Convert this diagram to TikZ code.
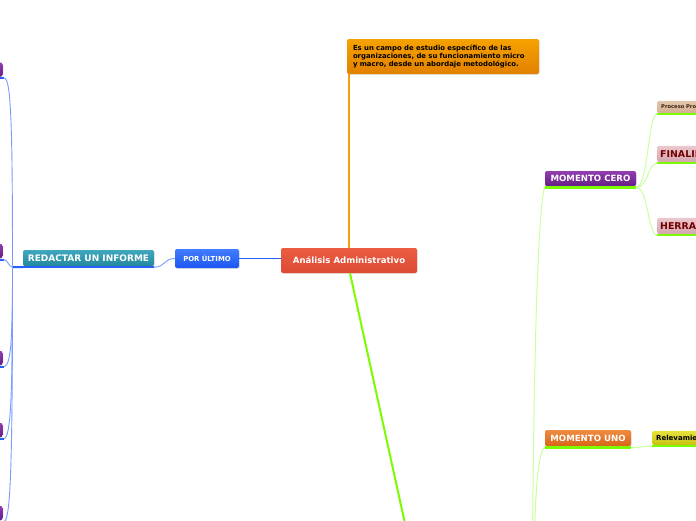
\documentclass[tikz,border=0pt]{standalone}
\usepackage{fontspec}
\setmainfont{DejaVu Sans}
\usepackage{tikz}
\usetikzlibrary{shadows, calc}
\definecolor{raiztop}{RGB}{236,92,66}
\definecolor{raizbot}{RGB}{220,74,52}
\definecolor{descTop}{RGB}{246,162,0}
\definecolor{descBot}{RGB}{226,128,0}
\definecolor{descLine}{RGB}{242,160,10}
\definecolor{azulTop}{RGB}{66,124,255}
\definecolor{azulBot}{RGB}{28,86,240}
\definecolor{azulLine}{RGB}{40,95,255}
\definecolor{azulRama}{RGB}{120,155,255}
\definecolor{tealTop}{RGB}{64,168,190}
\definecolor{tealBot}{RGB}{34,136,158}
\definecolor{moraTop}{RGB}{146,62,176}
\definecolor{moraBot}{RGB}{102,30,134}
\definecolor{naranjaTop}{RGB}{240,140,66}
\definecolor{naranjaBot}{RGB}{214,100,24}
\definecolor{verdeFuerte}{RGB}{124,252,0}
\definecolor{verdeRama}{RGB}{200,255,160}
\definecolor{tanTop}{RGB}{228,198,170}
\definecolor{tanBot}{RGB}{212,176,146}
\definecolor{rosaTop}{RGB}{236,200,206}
\definecolor{rosaBot}{RGB}{214,164,174}
\definecolor{amaTop}{RGB}{232,228,60}
\definecolor{amaBot}{RGB}{200,192,20}

\begin{document}
\begin{tikzpicture}[x=1pt, y=-1pt,
    topic/.style={rounded corners=2pt, inner sep=0pt, text=white,
        font=\bfseries\fontsize{8.6}{10}\selectfont,
        drop shadow={opacity=0.2, shadow xshift=0.6pt, shadow yshift=-0.8pt}},
    leaf/.style={rounded corners=1.5pt, inner sep=0pt, inner xsep=4pt,
        anchor=south west, align=left, text width=100pt},
    azulUline/.style={draw=azulLine, line width=2pt},
    azulBranch/.style={draw=azulRama, line width=0.9pt},
    verdeUline/.style={draw=verdeFuerte, line width=2.2pt},
    verdeBranch/.style={draw=verdeRama, line width=1pt}
]
    \useasboundingbox (0,0) rectangle (696,520);
    \fill[white] (0,0) rectangle (696,520);
    \clip (0,0) rectangle (696,520);

    % Central topic and description
    \node[topic, top color=raiztop, bottom color=raizbot, minimum width=136pt,
          minimum height=25pt] (analisis) at (349,260.5) {Análisis Administrativo};
    \node[topic, top color=descTop, bottom color=descBot, minimum width=192pt,
          minimum height=35pt, text=black, text width=180pt, align=left,
          font=\bfseries\fontsize{6.9}{8}\selectfont] (desc) at (443,56.5)
          {Es un campo de estudio específico de las\\organizaciones, de su funcionamiento micro\\y macro, desde un abordaje metodológico.};
    \draw[descLine, line width=1.8pt] (analisis.north) -- (analisis.north |- desc.south);

    % Left side
    \node[topic, top color=azulTop, bottom color=azulBot, minimum width=64pt,
          minimum height=19pt, font=\bfseries\fontsize{6.9}{8}\selectfont] (porultimo) at (207,258.5) {POR ÚLTIMO};
    \node[topic, top color=tealTop, bottom color=tealBot, minimum width=131pt,
          minimum height=16pt, font=\bfseries\fontsize{9}{10}\selectfont] (redactar) at (88.5,258) {REDACTAR UN INFORME};
    \draw[azulLine, line width=1.3pt] (porultimo.east) -- (porultimo.east -| analisis.west);
    \draw[azulUline] ([yshift=-1pt]redactar.south west) -- ([yshift=-1pt]redactar.south east);
    \draw[azulBranch] ([yshift=-1pt]redactar.south east) .. controls +(11,0) and +(-11,0) .. (porultimo.west);

    \foreach \n/\y in {1/69.5, 2/251, 3/358, 4/430, 5/513} {
        \node[topic, top color=moraTop, bottom color=moraBot, minimum width=30pt,
              minimum height=14pt, anchor=east] (p\n) at (3,\y) {};
        \draw[azulUline] ([yshift=-1.5pt]p\n.south west) -- ([xshift=1pt,yshift=-1.5pt]p\n.south east);
    }
    \coordinate (hub) at (12.5,267);
    \draw[azulUline] ([yshift=-1pt]redactar.south west) -- (hub);
    \foreach \n in {1,3,4,5} {
        \draw[azulBranch] (hub) .. controls ($(hub)!0.75!(hub |- p\n.south east)$)
            and ($(p\n.south east)+(8,0)$) .. ([xshift=1pt,yshift=-1.5pt]p\n.south east);
    }
    \draw[azulBranch] (hub) .. controls +(-4,0) and +(4,0) .. ([xshift=1pt,yshift=-1.5pt]p2.south east);

    % Right side
    \coordinate (abajo) at (424,610);
    \coordinate (fuente) at (532,640);
    \draw[verdeFuerte, line width=2pt] ([xshift=1pt]analisis.south) -- (abajo);

    \node[topic, top color=moraTop, bottom color=moraBot, minimum width=91pt,
          minimum height=15pt] (cero) at (590.5,178.5) {MOMENTO CERO};
    \node[topic, top color=naranjaTop, bottom color=naranjaBot, minimum width=86pt,
          minimum height=16pt] (uno) at (588,438) {MOMENTO UNO};
    \draw[verdeBranch] (fuente) .. controls (533,330) and (539,200) .. ([yshift=-1.2pt]cero.south west);
    \draw[verdeBranch] (fuente) .. controls (534,500) and (537,452) .. ([yshift=-1.2pt]uno.south west);
    \draw[verdeUline] ([yshift=-1.2pt]cero.south west) -- ([yshift=-1.2pt]cero.south east);
    \draw[verdeUline] ([yshift=-1.2pt]uno.south west) -- ([yshift=-1.2pt]uno.south east);

    \node[leaf, top color=tanTop, bottom color=tanBot, minimum height=12pt, text=black!70!brown,
          font=\bfseries\fontsize{5.2}{6}\selectfont] (proceso) at (657,113) {Proceso Pro};
    \node[leaf, top color=rosaTop, bottom color=rosaBot, minimum height=16pt, text=red!45!black,
          font=\bfseries\fontsize{9.4}{10}\selectfont, inner xsep=3pt] (finalidad) at (657,162) {FINALIDAD};
    \node[leaf, top color=rosaTop, bottom color=rosaBot, minimum height=16pt, text=red!45!black,
          font=\bfseries\fontsize{9.4}{10}\selectfont, inner xsep=3pt] (herram) at (657,234) {HERRAMIENTAS};
    \node[leaf, top color=amaTop, bottom color=amaBot, minimum height=14pt, text=black,
          font=\bfseries\fontsize{7}{8}\selectfont] (relev) at (652,445) {Relevamiento};

    \foreach \h in {proceso, finalidad, herram} {
        \draw[verdeBranch] ([yshift=-1.2pt]cero.south east) .. controls +(12,0) and +(-9,0) .. ([yshift=-1.2pt]\h.south west);
        \draw[verdeUline] ([yshift=-1.2pt]\h.south west) -- ([yshift=-1.2pt]\h.south east);
    }
    \draw[verdeBranch] ([yshift=-1.2pt]uno.south east) .. controls +(12,0) and +(-9,0) .. ([yshift=-1.2pt]relev.south west);
    \draw[verdeUline] ([yshift=-1.2pt]relev.south west) -- ([yshift=-1.2pt]relev.south east);
\end{tikzpicture}
\end{document}
